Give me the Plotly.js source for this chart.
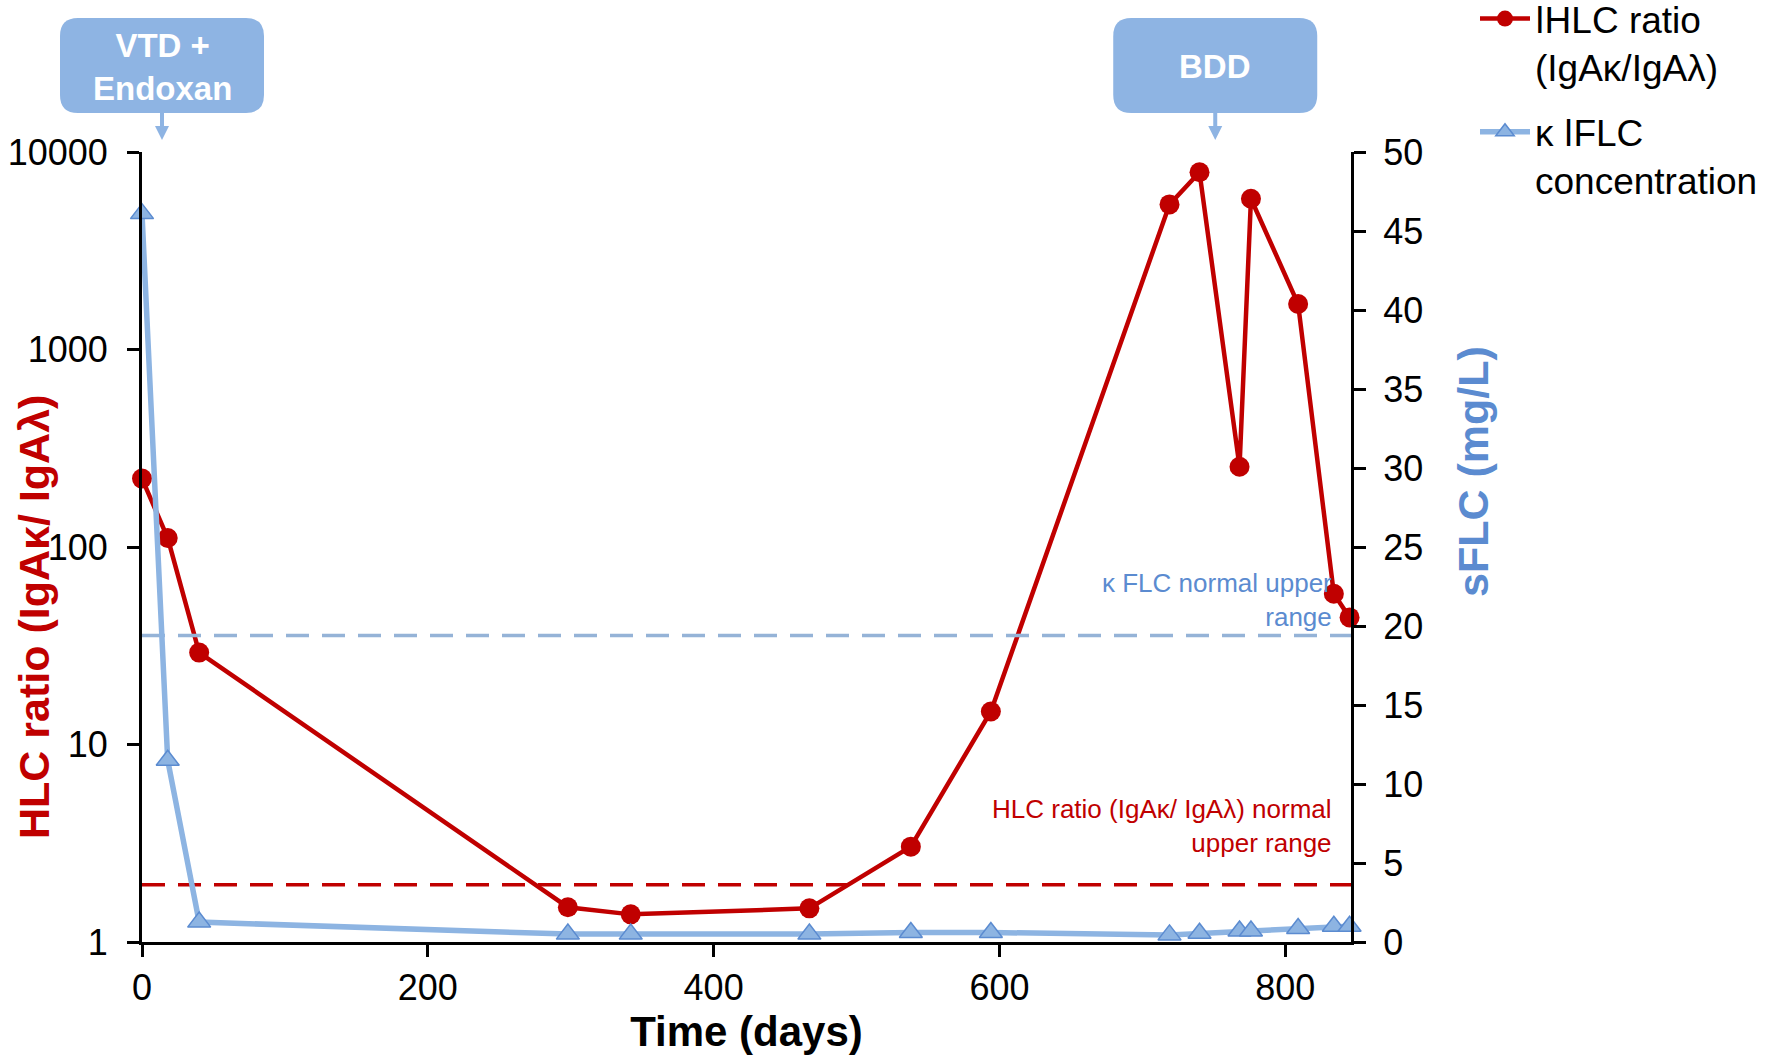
<!DOCTYPE html>
<html><head><meta charset="utf-8">
<script src="https://cdn.plot.ly/plotly-3.0.1.min.js"></script>
<style>html,body{margin:0;padding:0;background:#fff;} #chart{width:1783px;height:1060px;}</style>
</head><body><div id="chart"></div>
<script>
// ---- data ----
const days = [0, 18, 40, 298, 342, 467, 538, 594, 719, 740, 768, 776, 809, 834, 845];
const hlcRatio = [222, 111, 29.2, 1.5, 1.38, 1.48, 3.04, 14.7, 5430, 7900, 255, 5800, 1700, 58, 44];
const kappaFLC = [46.1, 11.5, 1.26, 0.5, 0.5, 0.5, 0.6, 0.6, 0.45, 0.55, 0.7, 0.7, 0.85, 1.0, 1.0];
const xTicks = [0, 200, 400, 600, 800];
const yLeftTicks = [1, 10, 100, 1000, 10000];
const yRightTicks = [0, 5, 10, 15, 20, 25, 30, 35, 40, 45, 50];
const kappaUpper = 19.4;
const hlcUpper = 1.95;
const xRange = [0, 846];
const treatmentLabels = ['VTD +<br>Endoxan', 'BDD'];
const treatmentDays = [14, 751];

// ---- layout geometry (pixels) ----
const W = 1783, H = 1060;
const L = 142, R = 1351, T = 152, B = 942;
const PW = R - L, PH = B - T;
const px2x = p => (p - L) / PW;
const px2y = p => (B - p) / PH;
const day2px = d => L + (d - xRange[0]) / (xRange[1] - xRange[0]) * PW;

const RED = '#c00000';
const BLUE_LINE = '#8db4e2';
const BLUE_DARK = '#5b8bd0';
const BOX = '#8eb4e3';
const FONT = 'Arial, "Liberation Sans", sans-serif';

function roundRect(x0, y0, x1, y1, r) {
  const X = px2x, Y = px2y;
  return `M ${X(x0 + r)},${Y(y0)} L ${X(x1 - r)},${Y(y0)} Q ${X(x1)},${Y(y0)} ${X(x1)},${Y(y0 + r)} ` +
    `L ${X(x1)},${Y(y1 - r)} Q ${X(x1)},${Y(y1)} ${X(x1 - r)},${Y(y1)} ` +
    `L ${X(x0 + r)},${Y(y1)} Q ${X(x0)},${Y(y1)} ${X(x0)},${Y(y1 - r)} ` +
    `L ${X(x0)},${Y(y0 + r)} Q ${X(x0)},${Y(y0)} ${X(x0 + r)},${Y(y0)} Z`;
}

const shapes = [];
const annotations = [];
treatmentDays.forEach((d, i) => {
  const cx = day2px(d);
  const bw = 204, top = 18, bot = 113;
  shapes.push({type: 'path', xref: 'paper', yref: 'paper', path: roundRect(cx - bw / 2, top, cx + bw / 2, bot, 18),
    fillcolor: BOX, line: {width: 0}, layer: 'above'});
  shapes.push({type: 'line', xref: 'paper', yref: 'paper', x0: px2x(cx), x1: px2x(cx), y0: px2y(bot), y1: px2y(127),
    line: {color: BOX, width: 4}});
  shapes.push({type: 'path', xref: 'paper', yref: 'paper',
    path: `M ${px2x(cx - 7)},${px2y(126)} L ${px2x(cx + 7)},${px2y(126)} L ${px2x(cx)},${px2y(140)} Z`,
    fillcolor: BOX, line: {width: 0}});
  annotations.push({xref: 'paper', yref: 'paper', x: px2x(cx), y: px2y((top + bot) / 2 + 1), text: treatmentLabels[i],
    showarrow: false, xanchor: 'center', yanchor: 'middle', align: 'center',
    font: {family: FONT, size: 33, color: '#ffffff', weight: 'bold'}});
});

annotations.push({xref: 'paper', yref: 'paper', x: px2x(34), y: px2y(617), text: 'HLC ratio (IgAκ/ IgAλ)',
  textangle: -90, showarrow: false, xanchor: 'center', yanchor: 'middle',
  font: {family: FONT, size: 43, color: RED, weight: 'bold'}});
annotations.push({xref: 'paper', yref: 'paper', x: px2x(1473), y: px2y(472), text: 'sFLC (mg/L)',
  textangle: -90, showarrow: false, xanchor: 'center', yanchor: 'middle',
  font: {family: FONT, size: 43, color: BLUE_DARK, weight: 'bold'}});
annotations.push({xref: 'paper', yref: 'paper', x: px2x(1334), y: px2y(600), text: 'κ FLC normal upper<br>range',
  showarrow: false, xanchor: 'right', yanchor: 'middle', align: 'right',
  font: {family: FONT, size: 26, color: BLUE_DARK}});
annotations.push({xref: 'paper', yref: 'paper', x: px2x(1334), y: px2y(826), text: 'HLC ratio (IgAκ/ IgAλ) normal<br>upper range',
  showarrow: false, xanchor: 'right', yanchor: 'middle', align: 'right',
  font: {family: FONT, size: 26, color: RED}});

const traces = [
  {x: xRange, y: [kappaUpper, kappaUpper], yaxis: 'y2', mode: 'lines', showlegend: false, hoverinfo: 'skip',
   line: {color: '#95b3d7', width: 3.5, dash: '23px,13px'}},
  {x: xRange, y: [hlcUpper, hlcUpper], yaxis: 'y', mode: 'lines', showlegend: false, hoverinfo: 'skip',
   line: {color: RED, width: 3.5, dash: '23px,13px'}},
  {x: days, y: hlcRatio, yaxis: 'y', mode: 'lines+markers', name: 'ǀHLC ratio<br>(IgAκ/IgAλ)', legendgroup: 'a',
   line: {color: RED, width: 4.5}, marker: {symbol: 'circle', size: 20, color: RED}, cliponaxis: false},
  {x: days, y: kappaFLC, yaxis: 'y2', mode: 'lines+markers', name: 'κ ǀFLC<br>concentration', legendgroup: 'b',
   line: {color: BLUE_LINE, width: 5.5}, marker: {symbol: 'triangle-up', size: 20, color: BLUE_LINE, line: {color: BLUE_DARK, width: 1.5}}, cliponaxis: false}
];

const axisCommon = {
  showline: true, linecolor: '#000', linewidth: 3, ticks: 'outside', ticklen: 12, tickwidth: 3, tickcolor: '#000',
  showgrid: false, zeroline: false, tickfont: {family: FONT, size: 36, color: '#000'}
};

const layout = {
  width: W, height: H,
  margin: {l: L, r: W - R, t: T, b: H - B, pad: 0, autoexpand: false},
  paper_bgcolor: '#fff', plot_bgcolor: '#fff',
  font: {family: FONT},
  xaxis: Object.assign({}, axisCommon, {range: xRange, tickvals: xTicks, ticktext: xTicks.map(String), ticklabelstandoff: 0,
    title: {text: 'Time (days)', font: {family: FONT, size: 42, color: '#000', weight: 'bold'}, standoff: 6}}),
  yaxis: Object.assign({}, axisCommon, {type: 'log', range: [0, 4], tickvals: yLeftTicks, ticktext: yLeftTicks.map(String), ticklabelstandoff: 12}),
  yaxis2: Object.assign({}, axisCommon, {overlaying: 'y', side: 'right', range: [0, 50], tickvals: yRightTicks, ticktext: yRightTicks.map(String),
    ticklabelstandoff: 10}),
  legend: {x: px2x(1475), y: px2y(-12), xanchor: 'left', yanchor: 'top', valign: 'top', tracegroupgap: 14, itemwidth: 50,
    font: {family: FONT, size: 37, color: '#000'}, bgcolor: 'rgba(0,0,0,0)'},
  shapes: shapes,
  annotations: annotations,
  showlegend: true
};

Plotly.newPlot('chart', traces, layout, {displayModeBar: false, staticPlot: true});
</script>
</body></html>
